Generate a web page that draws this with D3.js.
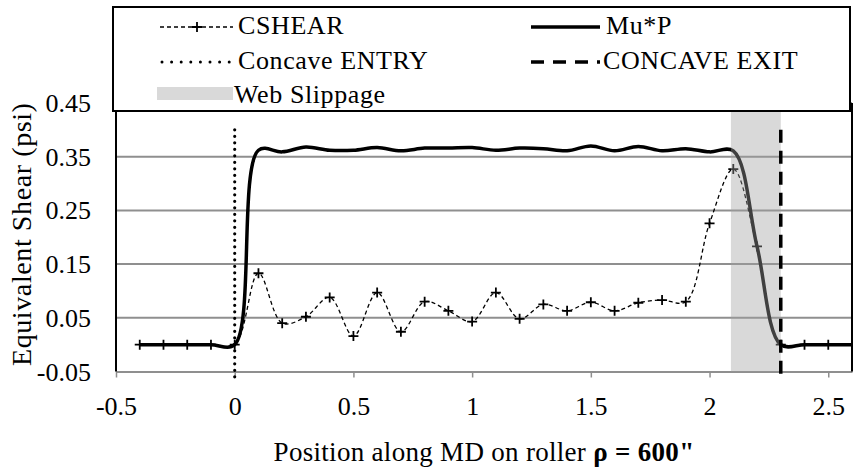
<!DOCTYPE html>
<html>
<head>
<meta charset="utf-8">
<script src="https://cdn.jsdelivr.net/npm/d3@7"></script>
<style>
  body { margin: 0; background: #fff; }
  svg { display: block; }
</style>
</head>
<body>
<svg id="chart" width="853" height="470"></svg>
<script>
// Position along the machine direction (every 0.1)
const positions = [-0.4, -0.3, -0.2, -0.1, 0, 0.1, 0.2, 0.3, 0.4, 0.5, 0.6, 0.7, 0.8, 0.9, 1.0,
                   1.1, 1.2, 1.3, 1.4, 1.5, 1.6, 1.7, 1.8, 1.9, 2.0, 2.1, 2.2, 2.3, 2.4, 2.5, 2.6];
// Equivalent shear, psi
const cshear = [0, 0, 0, 0, 0, 0.133, 0.040, 0.052, 0.088, 0.016, 0.097, 0.024, 0.080, 0.063, 0.043,
                0.097, 0.048, 0.075, 0.063, 0.079, 0.063, 0.078, 0.083, 0.080, 0.226, 0.327, 0.183, 0, 0, 0, 0];
const muP = [0, 0, 0, 0, 0, 0.362, 0.359, 0.368, 0.362, 0.362, 0.367, 0.361, 0.366, 0.366, 0.367,
             0.362, 0.366, 0.365, 0.361, 0.370, 0.361, 0.369, 0.361, 0.365, 0.359, 0.361, 0.183, 0, 0, 0, 0];
// Concave entry / exit positions and their vertical extent
const concaveEntry = 0;
const concaveExit = 2.3;
const markerSpan = [-0.06, 0.4];
// Web slippage zone
const slippage = [2.09, 2.3];

const xTicks = [-0.5, 0, 0.5, 1, 1.5, 2, 2.5];
const xTickLabels = ["-0.5", "0", "0.5", "1", "1.5", "2", "2.5"];
const yTicks = [-0.05, 0.05, 0.15, 0.25, 0.35, 0.45];
const yTickLabels = ["-0.05", "0.05", "0.15", "0.25", "0.35", "0.45"];

const legendItems = ["CSHEAR", "Mu*P", "Concave ENTRY", "CONCAVE EXIT", "Web Slippage"];
const xTitle = "Position along MD on roller ";
const xTitleBold = "\u03C1 = 600\"";
const yTitle = "Equivalent Shear (psi)";

const FONT = "'Liberation Serif', LiberationSerif, Tinos, 'Noto Serif', 'DejaVu Serif', FreeSerif, 'Times New Roman', Times, Georgia, serif";

const svg = d3.select("#chart").attr("font-family", FONT);
const plot = { left: 116, right: 852, top: 103, bottom: 371.5 };

const x = d3.scaleLinear().domain([-0.5, 2.6]).range([plot.left, plot.right]);
const y = d3.scaleLinear().domain([-0.05, 0.45]).range([plot.bottom, plot.top]);

svg.append("defs").append("clipPath").attr("id", "plotClip")
  .append("rect")
  .attr("x", plot.left).attr("y", plot.top - 5)
  .attr("width", plot.right - plot.left).attr("height", plot.bottom - plot.top + 10);

const gridColor = "#8f8f8f";

// horizontal gridlines
svg.append("g").selectAll("line")
  .data(yTicks.filter(v => v > -0.05))
  .join("line")
  .attr("x1", plot.left).attr("x2", plot.right)
  .attr("y1", d => y(d)).attr("y2", d => y(d))
  .attr("stroke", gridColor).attr("stroke-width", 2);

// x axis
const xAxis = d3.axisBottom(x)
  .tickValues(xTicks)
  .tickFormat((d, i) => xTickLabels[i])
  .tickSize(6).tickSizeOuter(0).tickPadding(19);
const gx = svg.append("g").attr("transform", `translate(0,${y(-0.05)})`).call(xAxis);
gx.attr("font-family", FONT).attr("font-size", 26);
gx.select(".domain").attr("stroke", gridColor).attr("stroke-width", 2);
gx.selectAll(".tick line").attr("stroke", gridColor).attr("stroke-width", 1.5);
gx.selectAll(".tick text").attr("fill", "#000");

// y tick labels
svg.append("g").selectAll("text")
  .data(yTicks)
  .join("text")
  .attr("x", 91).attr("y", d => y(d) + 9)
  .attr("text-anchor", "end").attr("font-size", 26)
  .text((d, i) => yTickLabels[i]);

// axis titles
svg.append("text")
  .attr("transform", `translate(31,${(plot.top + plot.bottom) / 2 - 3}) rotate(-90)`)
  .attr("text-anchor", "middle").attr("font-size", 28).attr("letter-spacing", 0.6)
  .text(yTitle);

const xt = svg.append("text")
  .attr("x", (plot.left + plot.right) / 2).attr("y", 461)
  .attr("text-anchor", "middle").attr("font-size", 27).attr("letter-spacing", 0.3);
xt.append("tspan").text(xTitle);
xt.append("tspan").attr("font-weight", "bold").text(xTitleBold);

// series
const line = d3.line()
  .x(d => x(d[0])).y(d => y(d[1]))
  .curve(d3.curveCatmullRom.alpha(0.5));

const series = svg.append("g").attr("clip-path", "url(#plotClip)");

// concave entry (dotted)
svg.append("line")
  .attr("x1", x(concaveEntry)).attr("x2", x(concaveEntry))
  .attr("y1", y(markerSpan[1])).attr("y2", y(markerSpan[0]))
  .attr("stroke", "#000").attr("stroke-width", 3.2)
  .attr("stroke-linecap", "round").attr("stroke-dasharray", "0 6.5");

const muData = positions.map((p, i) => [p, muP[i]]);
const csData = positions.map((p, i) => [p, cshear[i]]);

series.append("path").datum(muData)
  .attr("d", line).attr("fill", "none")
  .attr("stroke", "#000").attr("stroke-width", 3.5)
  .attr("stroke-linejoin", "round");

series.append("path").datum(csData)
  .attr("d", line).attr("fill", "none")
  .attr("stroke", "#000").attr("stroke-width", 1.3)
  .attr("stroke-dasharray", "4 3");

series.selectAll("path.mark").data(csData)
  .join("path").attr("class", "mark")
  .attr("transform", d => `translate(${x(d[0])},${y(d[1])})`)
  .attr("d", "M-5,0H5M0,-5V5")
  .attr("stroke", "#000").attr("stroke-width", 1.8);

// web slippage band
svg.append("rect")
  .attr("x", x(slippage[0])).attr("width", x(slippage[1]) - x(slippage[0]))
  .attr("y", y(0.45)).attr("height", y(-0.05) - y(0.45))
  .attr("fill", "#a0a0a0").attr("fill-opacity", 0.4);

// concave exit (dashed)
svg.append("line")
  .attr("x1", x(concaveExit)).attr("x2", x(concaveExit))
  .attr("y1", y(markerSpan[1])).attr("y2", y(markerSpan[0]))
  .attr("stroke", "#000").attr("stroke-width", 3.5)
  .attr("stroke-dasharray", "13 8");

// plot frame sides
[plot.left, plot.right].forEach(px => {
  svg.append("line")
    .attr("x1", px).attr("x2", px)
    .attr("y1", y(0.45)).attr("y2", y(-0.05))
    .attr("stroke", "#000").attr("stroke-width", 2);
});

// legend
const lg = svg.append("g");
lg.append("rect")
  .attr("x", 113).attr("y", 7).attr("width", 737).attr("height", 104)
  .attr("fill", "#fff").attr("stroke", "#000").attr("stroke-width", 2);

const legendText = (tx, ty, s) => lg.append("text")
  .attr("x", tx).attr("y", ty).attr("font-size", 26).attr("letter-spacing", 0.6).text(s);

// CSHEAR
lg.append("line").attr("x1", 160).attr("x2", 233).attr("y1", 27).attr("y2", 27)
  .attr("stroke", "#000").attr("stroke-width", 1.3).attr("stroke-dasharray", "4 3");
lg.append("path").attr("d", "M192,27H202M197,22V32").attr("stroke", "#000").attr("stroke-width", 1.8);
legendText(238, 34, legendItems[0]);
// Mu*P
lg.append("line").attr("x1", 531).attr("x2", 600).attr("y1", 27).attr("y2", 27)
  .attr("stroke", "#000").attr("stroke-width", 3.5);
legendText(606, 34, legendItems[1]);
// Concave ENTRY
lg.append("line").attr("x1", 162).attr("x2", 230).attr("y1", 62).attr("y2", 62)
  .attr("stroke", "#000").attr("stroke-width", 3)
  .attr("stroke-linecap", "round").attr("stroke-dasharray", "0 9.6");
legendText(238, 69, legendItems[2]);
// CONCAVE EXIT
lg.append("line").attr("x1", 531).attr("x2", 600).attr("y1", 62).attr("y2", 62)
  .attr("stroke", "#000").attr("stroke-width", 3.5).attr("stroke-dasharray", "13 9");
legendText(603, 69, legendItems[3]);
// Web Slippage
lg.append("rect").attr("x", 157).attr("y", 87).attr("width", 76).attr("height", 13)
  .attr("fill", "#a0a0a0").attr("fill-opacity", 0.4);
legendText(234, 103, legendItems[4]);
</script>
</body>
</html>
